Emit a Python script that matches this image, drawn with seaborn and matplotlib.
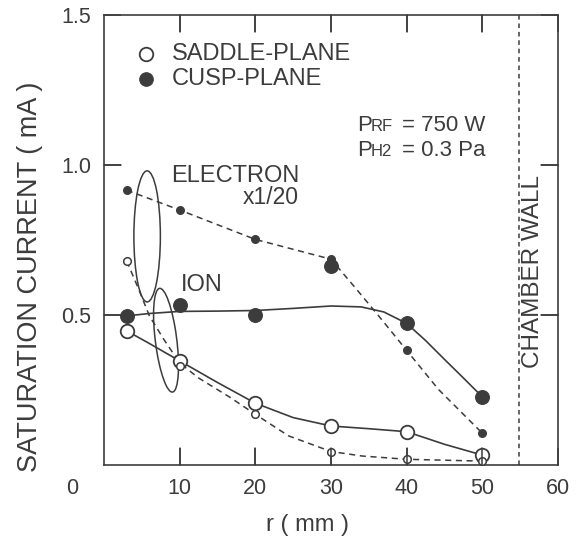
import seaborn as sns
import matplotlib.pyplot as plt
from matplotlib.patches import Ellipse
from matplotlib.lines import Line2D

# measured points, r in mm, current in mA
r_pts = [3, 10, 20, 30, 40, 50]
ion_cusp = [0.497, 0.533, 0.500, 0.663, 0.472, 0.227]
ion_saddle = [0.447, 0.347, 0.206, 0.130, 0.111, 0.033]
ele_cusp = [0.916, 0.850, 0.752, 0.686, 0.382, 0.106]
ele_saddle = [0.680, 0.330, 0.169, 0.045, 0.019, 0.013]

# hand drawn guide curves
ion_cusp_r = [3, 6, 10, 15, 20, 25, 30, 34, 37, 40, 42.5, 45, 47.5, 50]
ion_cusp_fit = [0.497, 0.505, 0.512, 0.513, 0.515, 0.522, 0.530, 0.527, 0.510,
                0.472, 0.415, 0.352, 0.290, 0.227]
ion_saddle_r = [3, 6, 10, 15, 20, 25, 30, 35, 40, 45, 50]
ion_saddle_fit = [0.447, 0.405, 0.347, 0.275, 0.206, 0.158, 0.130, 0.121,
                  0.111, 0.069, 0.033]
ele_cusp_r = [3, 10, 20, 30, 33.2, 36.3, 40, 44.2, 50]
ele_cusp_fit = [0.916, 0.850, 0.752, 0.686, 0.591, 0.497, 0.382, 0.252, 0.106]
ele_saddle_r = [3, 4.6, 6, 7.9, 10, 12.5, 16.5, 20, 24.4, 30, 34.1, 40, 50]
ele_saddle_fit = [0.680, 0.585, 0.497, 0.419, 0.340, 0.290, 0.228, 0.169,
                  0.097, 0.045, 0.030, 0.019, 0.013]

x_ticks = [10, 20, 30, 40, 50, 60]
y_ticks = [0.5, 1.0, 1.5]

sns.set_theme(style="ticks")
ink = '#3c3c3c'
plt.rcParams['font.family'] = ['Liberation Sans', 'DejaVu Sans']

fig = plt.figure(figsize=(5.84, 5.42), dpi=100)
ax = fig.add_axes([104 / 584, 1 - 465 / 542, 454 / 584, 450 / 542])
ax.set_axisbelow(False)

# curves
sns.lineplot(x=ion_cusp_r, y=ion_cusp_fit, sort=False, estimator=None,
             color=ink, lw=1.2, ax=ax)
sns.lineplot(x=ion_saddle_r, y=ion_saddle_fit, sort=False, estimator=None,
             color=ink, lw=1.2, ax=ax)
sns.lineplot(x=ele_cusp_r, y=ele_cusp_fit, sort=False, estimator=None,
             color=ink, lw=1.1, ax=ax, linestyle=(0, (4, 3)))
sns.lineplot(x=ele_saddle_r, y=ele_saddle_fit, sort=False, estimator=None,
             color=ink, lw=1.1, ax=ax, linestyle=(0, (4, 3)))

# markers
sns.scatterplot(x=r_pts, y=ion_cusp, s=95, color=ink, edgecolor=ink,
                linewidth=1, ax=ax, zorder=5)
sns.scatterplot(x=r_pts, y=ion_saddle, s=95, facecolor='white', edgecolor=ink,
                linewidth=1.3, ax=ax, zorder=5)
sns.scatterplot(x=r_pts, y=ele_cusp, s=30, color=ink, edgecolor=ink,
                linewidth=1, ax=ax, zorder=5)
sns.scatterplot(x=r_pts, y=ele_saddle, s=30, facecolor='white', edgecolor=ink,
                linewidth=1.1, ax=ax, zorder=5)

# ellipses grouping the curves
ax.add_patch(Ellipse((5.7, 0.762), 3.5, 0.437, fill=False, ec=ink, lw=1.1))
ax.add_patch(Ellipse((8.2, 0.416), 3.3, 0.300, angle=-3, fill=False, ec=ink, lw=1.1))

# chamber wall
ax.axvline(54.8, color=ink, lw=1.1, linestyle=(0, (3, 2.5)))
ax.text(56.7, 0.645, 'CHAMBER WALL', rotation=90, ha='center', va='center',
        fontsize=17.5, color=ink)

# legend drawn by hand
sns.scatterplot(x=[5.6], y=[1.369], s=95, facecolor='white', edgecolor=ink,
                linewidth=1.3, ax=ax)
sns.scatterplot(x=[5.6], y=[1.286], s=95, color=ink, edgecolor=ink, ax=ax)
ax.text(9.0, 1.369, 'SADDLE-PLANE', va='center', fontsize=17, color=ink)
ax.text(9.0, 1.286, 'CUSP-PLANE', va='center', fontsize=17, color=ink)

ax.text(25.8, 0.963, 'ELECTRON', ha='right', va='center', fontsize=17, color=ink)
ax.text(25.8, 0.890, 'x1/20', ha='right', va='center', fontsize=16.5, color=ink)
ax.text(10.1, 0.600, 'ION', ha='left', va='center', fontsize=17, color=ink)

# operating conditions with small-cap subscripts
for yy, sub, rest in [(1.112, 'RF', '= 750 W'), (1.030, 'H2', '= 0.3 Pa')]:
    ax.text(33.4, yy, 'P', fontsize=16, color=ink, va='baseline')
    ax.annotate(sub, (33.4, yy), xytext=(14, 0), textcoords='offset pixels',
                fontsize=12, color=ink, va='baseline')
    ax.annotate(rest, (33.4, yy), xytext=(45, 0), textcoords='offset pixels',
                fontsize=16, color=ink, va='baseline')

ax.text(-4.2, -0.078, '0', ha='center', va='center', fontsize=15.5, color=ink,
        clip_on=False)
for sp in ax.spines.values():
    sp.set_color(ink)
    sp.set_linewidth(1.2)

ax.set_xlabel('r ( mm )', fontsize=17, color=ink)
ax.xaxis.set_label_coords((307 - 104) / 454, -60 / 450)
ax.xaxis.label.set_va('center')
ax.set_ylabel('SATURATION CURRENT ( mA )', fontsize=19.5, color=ink)
ax.yaxis.set_label_coords(-(104 - 30) / 454, (465 - 277) / 450)
ax.yaxis.label.set_va('center')

ax.set_xlim(0, 60)
ax.set_ylim(0, 1.5)
ax.set_xticks(x_ticks, labels=[str(t) for t in x_ticks])
ax.set_yticks(y_ticks, labels=['%.1f' % t for t in y_ticks])
ax.tick_params(direction='in', length=12, width=1.1, color=ink,
               top=True, right=True, labelcolor=ink, labelsize=15.5, pad=9)

# inward tick marks on all four sides, added at figure level so they sit on top
tl_x = 17 / 450
tl_y = 17 / 454
xt = ax.get_xaxis_transform()
yt = ax.get_yaxis_transform()
for t in x_ticks[:-1]:
    for y0, y1 in [(0, tl_x), (1, 1 - tl_x)]:
        fig.add_artist(Line2D([t, t], [y0, y1], transform=xt, color=ink,
                              lw=1.1, zorder=10))
for t in y_ticks[:-1]:
    for x0, x1 in [(0, tl_y), (1, 1 - tl_y)]:
        fig.add_artist(Line2D([x0, x1], [t, t], transform=yt, color=ink,
                              lw=1.1, zorder=10))

fig.savefig('out.png', dpi=100)
